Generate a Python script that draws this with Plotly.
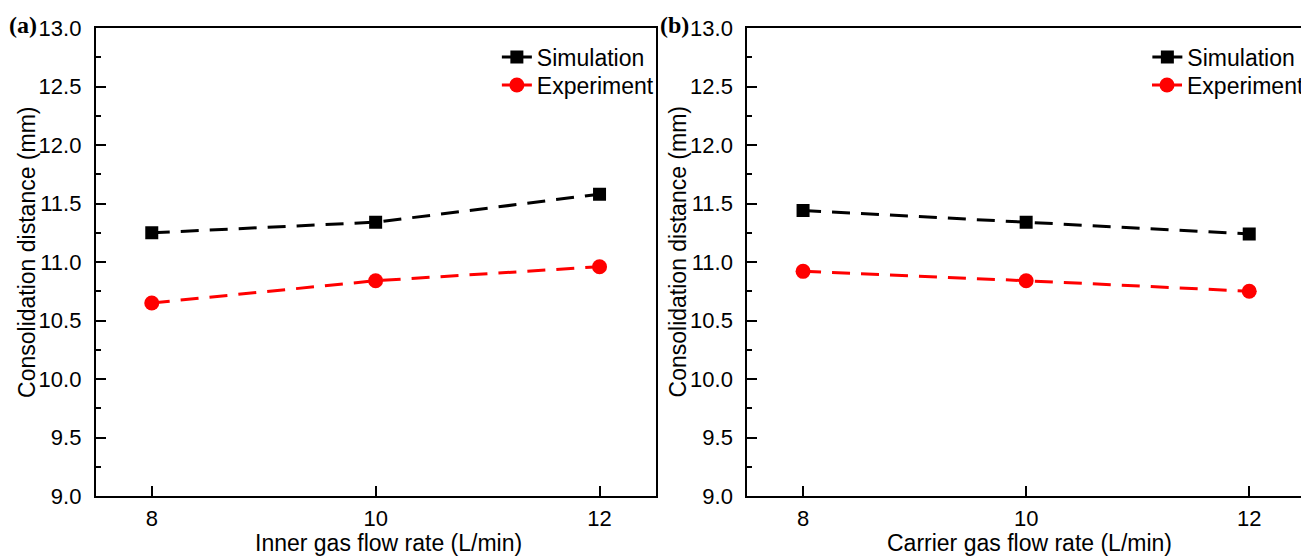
import plotly.graph_objects as go

flow_rates = [8, 10, 12]
inner_sim = [11.25, 11.34, 11.58]
inner_exp = [10.65, 10.84, 10.96]
carrier_sim = [11.44, 11.34, 11.24]
carrier_exp = [10.92, 10.84, 10.75]

y_ticks = [9.0, 9.5, 10.0, 10.5, 11.0, 11.5, 12.0, 12.5, 13.0]
y_ticklabels = ["9.0", "9.5", "10.0", "10.5", "11.0", "11.5", "12.0", "12.5", "13.0"]
x_ticks = [8, 10, 12]

# page has an 8px body margin; work in screen pixels and convert
OFF = 8
W, H = 1309 - OFF, 556 - OFF
FONT = "Liberation Sans, Arial, sans-serif"


def px(xs):
    return (xs - OFF) / W


def py(ys):
    return 1 - (ys - OFF) / H


fig = go.Figure()


def add_series(x, y, name, color, symbol, size, xa, ya):
    fig.add_trace(go.Scatter(
        x=x, y=y, name=name, mode="lines+markers",
        line=dict(color=color, width=3, dash="18px,11px"),
        marker=dict(color=color, symbol=symbol, size=size),
        xaxis=xa, yaxis=ya, showlegend=False,
    ))


add_series(flow_rates, inner_sim, "Simulation", "black", "square", 13, "x", "y")
add_series(flow_rates, inner_exp, "Experiment", "red", "circle", 15, "x", "y")
add_series(flow_rates, carrier_sim, "Simulation", "black", "square", 13, "x2", "y2")
add_series(flow_rates, carrier_exp, "Experiment", "red", "circle", 15, "x2", "y2")

# legend-only entries (solid line samples), one legend per row for exact placement
legend_specs = [
    ("legend", "x", "y", "Simulation", "black", "square", 13, 543, 57),
    ("legend2", "x", "y", "Experiment", "red", "circle", 15, 543, 85),
    ("legend3", "x2", "y2", "Simulation", "black", "square", 13, 1195, 57),
    ("legend4", "x2", "y2", "Experiment", "red", "circle", 15, 1195, 85),
]
legend_layout = {}
for lg, xa, ya, name, color, sym, size, tx, ty in legend_specs:
    fig.add_trace(go.Scatter(x=[None], y=[None], name=name, mode="lines+markers",
                             line=dict(color=color, width=3), marker=dict(color=color, symbol=sym, size=size),
                             xaxis=xa, yaxis=ya, legend=lg, showlegend=True))
    legend_layout[lg] = dict(x=px(tx - 45), y=py(ty), xanchor="left", yanchor="middle",
                             bgcolor="rgba(0,0,0,0)", borderwidth=0,
                             font=dict(family=FONT, size=23, color="black"))

dom_y = [py(496), py(28)]
dom_x1 = [px(96), px(657)]
dom_x2 = [px(749), px(1308)]

TICKFONT = dict(family=FONT, size=22, color="black")
xcommon = dict(range=[7.5, 12.5], tickvals=x_ticks, ticks="inside", ticklen=10, tickwidth=2,
               tickcolor="black", showline=True, linecolor="black", linewidth=2, mirror=True,
               showgrid=False, zeroline=False, tickfont=TICKFONT, automargin=False, ticklabelstandoff=2)
ycommon = dict(range=[9.0, 13.0], tickvals=y_ticks, ticktext=y_ticklabels, ticks="inside", ticklen=10,
               tickwidth=2, tickcolor="black", showline=True, linecolor="black", linewidth=2, mirror=True,
               showgrid=False, zeroline=False, tickfont=TICKFONT, automargin=False, ticklabelstandoff=8,
               minor=dict(dtick=0.25, tick0=9.0, ticks="inside", ticklen=5, tickwidth=2, tickcolor="black",
                          showgrid=False))

fig.update_layout(
    width=W, height=H,
    margin=dict(l=0, r=0, t=0, b=0, pad=0),
    paper_bgcolor="white", plot_bgcolor="white",
    xaxis=dict(domain=dom_x1, anchor="y", **xcommon),
    yaxis=dict(domain=dom_y, anchor="x", **ycommon),
    xaxis2=dict(domain=dom_x2, anchor="y2", **xcommon),
    yaxis2=dict(domain=dom_y, anchor="x2", **ycommon),
    showlegend=True,
    **legend_layout,
)

ann = []
for xc, label in [(389, "Inner gas flow rate (L/min)"), (1032, "Carrier gas flow rate (L/min)")]:
    ann.append(dict(x=px(xc), y=py(543), xref="paper", yref="paper", text=label, showarrow=False,
                    xanchor="center", yanchor="middle", font=dict(family=FONT, size=23, color="black")))
for xc in [27, 680]:
    ann.append(dict(x=px(xc), y=py(252), xref="paper", yref="paper", text="Consolidation distance (mm)",
                    showarrow=False, textangle=-90, xanchor="center", yanchor="middle",
                    font=dict(family=FONT, size=23, color="black")))
for xc, lab in [(7, "(a)"), (660, "(b)")]:
    ann.append(dict(x=px(xc), y=py(25), xref="paper", yref="paper", text="<b>" + lab + "</b>",
                    showarrow=False, xanchor="left", yanchor="middle",
                    font=dict(family="Liberation Serif, Times New Roman, serif", size=24, color="black")))
fig.update_layout(annotations=ann)

fig.write_html("out.html")
